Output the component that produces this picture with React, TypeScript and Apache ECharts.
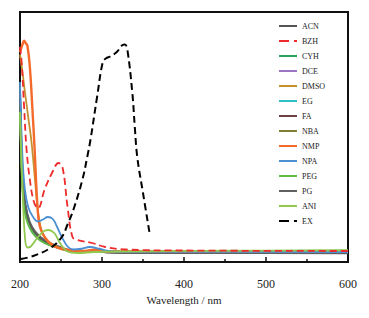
import React, { useEffect, useRef } from "react";
import * as echarts from "echarts";

const seriesNames = ["ACN", "BZH", "CYH", "DCE", "DMSO", "EG", "FA", "NBA", "NMP", "NPA", "PEG", "PG", "ANI", "EX"];
const colors = ["#555555", "#EE2B2B", "#27A35E", "#9C74C4", "#C4902F", "#2EC0C4", "#6E4242", "#7F7F33", "#F46A2B", "#4C8FD2", "#5DBB46", "#606060", "#90C850", "#000000"];

const ACN_x = [200, 202, 204, 207, 212, 218, 225, 235, 248, 262, 280, 292, 305, 350, 450, 600];
const ACN_y = [0.68, 0.42, 0.3, 0.21, 0.15, 0.12, 0.095, 0.075, 0.06, 0.045, 0.042, 0.046, 0.04, 0.037, 0.037, 0.036];

const BZH_x = [200, 202, 205, 208, 212, 217, 222, 230, 239, 247, 252, 258, 264, 270, 288, 304, 329, 400, 600];
const BZH_y = [0.86, 0.8, 0.62, 0.45, 0.33, 0.24, 0.215, 0.29, 0.356, 0.396, 0.376, 0.22, 0.1, 0.088, 0.076, 0.06, 0.05, 0.046, 0.044];

const CYH_x = [200, 202, 204, 207, 212, 218, 225, 235, 248, 262, 280, 292, 305, 350, 450, 600];
const CYH_y = [0.66, 0.4, 0.28, 0.2, 0.145, 0.115, 0.092, 0.072, 0.058, 0.044, 0.042, 0.047, 0.041, 0.039, 0.039, 0.039];

const DCE_x = [200, 202, 204, 207, 212, 218, 225, 235, 248, 262, 280, 292, 305, 350, 450, 600];
const DCE_y = [0.64, 0.38, 0.27, 0.19, 0.14, 0.11, 0.09, 0.07, 0.056, 0.044, 0.042, 0.045, 0.04, 0.038, 0.038, 0.038];

const DMSO_x = [200, 203, 206, 210, 214, 218, 222, 226, 232, 240, 255, 280, 292, 305, 600];
const DMSO_y = [0.83, 0.76, 0.68, 0.58, 0.48, 0.34, 0.2, 0.13, 0.09, 0.07, 0.05, 0.044, 0.048, 0.042, 0.04];

const EG_x = [200, 202, 204, 207, 212, 218, 225, 235, 248, 262, 280, 292, 305, 350, 450, 600];
const EG_y = [0.7, 0.44, 0.31, 0.22, 0.155, 0.12, 0.096, 0.076, 0.06, 0.046, 0.043, 0.047, 0.041, 0.039, 0.039, 0.039];

const FA_x = [200, 202, 204, 207, 212, 218, 225, 235, 248, 262, 280, 292, 305, 350, 450, 600];
const FA_y = [0.62, 0.37, 0.26, 0.19, 0.14, 0.11, 0.088, 0.07, 0.056, 0.043, 0.041, 0.045, 0.04, 0.039, 0.039, 0.04];

const NBA_x = [200, 202, 204, 207, 212, 218, 225, 235, 248, 262, 280, 292, 305, 350, 450, 600];
const NBA_y = [0.66, 0.41, 0.29, 0.21, 0.15, 0.118, 0.094, 0.074, 0.059, 0.045, 0.043, 0.047, 0.041, 0.04, 0.041, 0.042];

const NMP_x = [200, 203, 205, 207, 209, 212, 215, 218, 221, 224, 230, 240, 255, 280, 292, 305, 600];
const NMP_y = [0.84, 0.87, 0.885, 0.875, 0.865, 0.78, 0.62, 0.44, 0.24, 0.145, 0.1, 0.066, 0.05, 0.044, 0.05, 0.042, 0.041];

const NPA_x = [200, 203, 206, 210, 215, 222, 228, 234, 240, 245, 251, 258, 265, 275, 285, 297, 306, 320, 600];
const NPA_y = [0.72, 0.42, 0.29, 0.22, 0.185, 0.162, 0.17, 0.18, 0.172, 0.142, 0.1, 0.062, 0.05, 0.053, 0.06, 0.053, 0.045, 0.041, 0.04];

const PEG_x = [200, 202, 204, 207, 212, 218, 225, 235, 248, 262, 280, 292, 305, 350, 450, 600];
const PEG_y = [0.6, 0.36, 0.25, 0.18, 0.135, 0.105, 0.085, 0.068, 0.054, 0.043, 0.042, 0.046, 0.042, 0.043, 0.044, 0.045];

const PG_x = [200, 202, 204, 207, 212, 218, 225, 235, 248, 262, 280, 292, 305, 350, 450, 600];
const PG_y = [0.7, 0.45, 0.32, 0.225, 0.16, 0.125, 0.1, 0.078, 0.062, 0.046, 0.041, 0.044, 0.038, 0.036, 0.036, 0.035];

const ANI_x = [200, 203, 206, 209, 213, 222, 230, 235, 242, 249, 258, 270, 290, 320, 450, 600];
const ANI_y = [0.6, 0.3, 0.1, 0.058, 0.062, 0.1, 0.125, 0.128, 0.115, 0.075, 0.042, 0.036, 0.04, 0.042, 0.045, 0.047];

const EX_x = [201, 216, 237, 251, 258, 265, 276, 282, 286, 294, 301, 305, 310, 318, 325, 328, 331, 337, 340, 343, 350, 358];
const EX_y = [0.012, 0.024, 0.056, 0.1, 0.15, 0.208, 0.328, 0.42, 0.49, 0.66, 0.8, 0.815, 0.822, 0.84, 0.868, 0.87, 0.848, 0.676, 0.54, 0.42, 0.276, 0.116];

const xTicks = [200, 300, 400, 500, 600];

const seriesX = [ACN_x, BZH_x, CYH_x, DCE_x, DMSO_x, EG_x, FA_x, NBA_x, NMP_x, NPA_x, PEG_x, PG_x, ANI_x, EX_x];
const seriesY = [ACN_y, BZH_y, CYH_y, DCE_y, DMSO_y, EG_y, FA_y, NBA_y, NMP_y, NPA_y, PEG_y, PG_y, ANI_y, EX_y];

const dashed = new Set(["BZH", "EX"]);
const drawOrder = ["FA", "DCE", "CYH", "EG", "NBA", "ACN", "PG", "PEG", "DMSO", "NMP", "NPA", "ANI", "BZH", "EX"];

export default function App() {
  const ref = useRef<HTMLDivElement>(null);
  useEffect(() => {
    if (!ref.current) return;
    const chart = echarts.init(ref.current, undefined, { renderer: "svg" });
    const font = "Liberation Serif";
    const series = drawOrder.map((name) => {
      const i = seriesNames.indexOf(name);
      const data = seriesX[i].map((x, k) => [x, seriesY[i][k]]);
      return {
        name,
        type: "line",
        data,
        smooth: 0.4,
        showSymbol: false,
        symbol: "none",
        z: 2 + drawOrder.indexOf(name),
        lineStyle: {
          color: colors[i],
          width: name === "NMP" ? 2.4 : name === "EX" ? 2 : 1.8,
          type: dashed.has(name) ? [7, 4] : "solid",
        },
        itemStyle: { color: colors[i] },
      };
    });
    chart.setOption({
      animation: false,
      grid: {
        left: 20,
        right: 21,
        top: 12,
        bottom: 56,
        show: true,
        borderColor: "#111",
        borderWidth: 2,
        backgroundColor: "transparent",
      },
      legend: {
        data: seriesNames.map((n) =>
          dashed.has(n) ? { name: n, lineStyle: { type: [10, 5] } } : { name: n }
        ),
        orient: "vertical",
        left: 278,
        top: 22,
        padding: 0,
        itemWidth: 18,
        itemHeight: 8,
        itemGap: 7,
        itemStyle: { opacity: 0, borderWidth: 0 },
        textStyle: { fontFamily: font, fontSize: 8, color: "#222" },
      },
      xAxis: {
        type: "value",
        min: 200,
        max: 600,
        interval: 100,
        name: "Wavelength / nm",
        nameLocation: "middle",
        nameGap: 31,
        nameTextStyle: { fontFamily: font, fontSize: 11, color: "#222" },
        axisLine: { lineStyle: { color: "#111", width: 2 } },
        axisTick: { inside: true, length: 5, lineStyle: { color: "#111", width: 1.5 } },
        minorTick: { show: true, splitNumber: 2, length: 3, lineStyle: { color: "#111", width: 1.5 } },
        splitLine: { show: false },
        axisLabel: {
          margin: 16,
          fontFamily: font,
          fontSize: 12,
          color: "#222",
          formatter: (v: number) => (xTicks.includes(v) ? String(v) : ""),
        },
      },
      yAxis: {
        type: "value",
        min: 0,
        max: 1,
        axisLine: { show: true, lineStyle: { color: "#111", width: 2 } },
        axisTick: { show: false },
        axisLabel: { show: false },
        splitLine: { show: false },
      },
      series,
    });
    return () => chart.dispose();
  }, []);
  return <div ref={ref} style={{ width: 369, height: 318, position: "absolute", left: 0, top: 0 }} />;
}
